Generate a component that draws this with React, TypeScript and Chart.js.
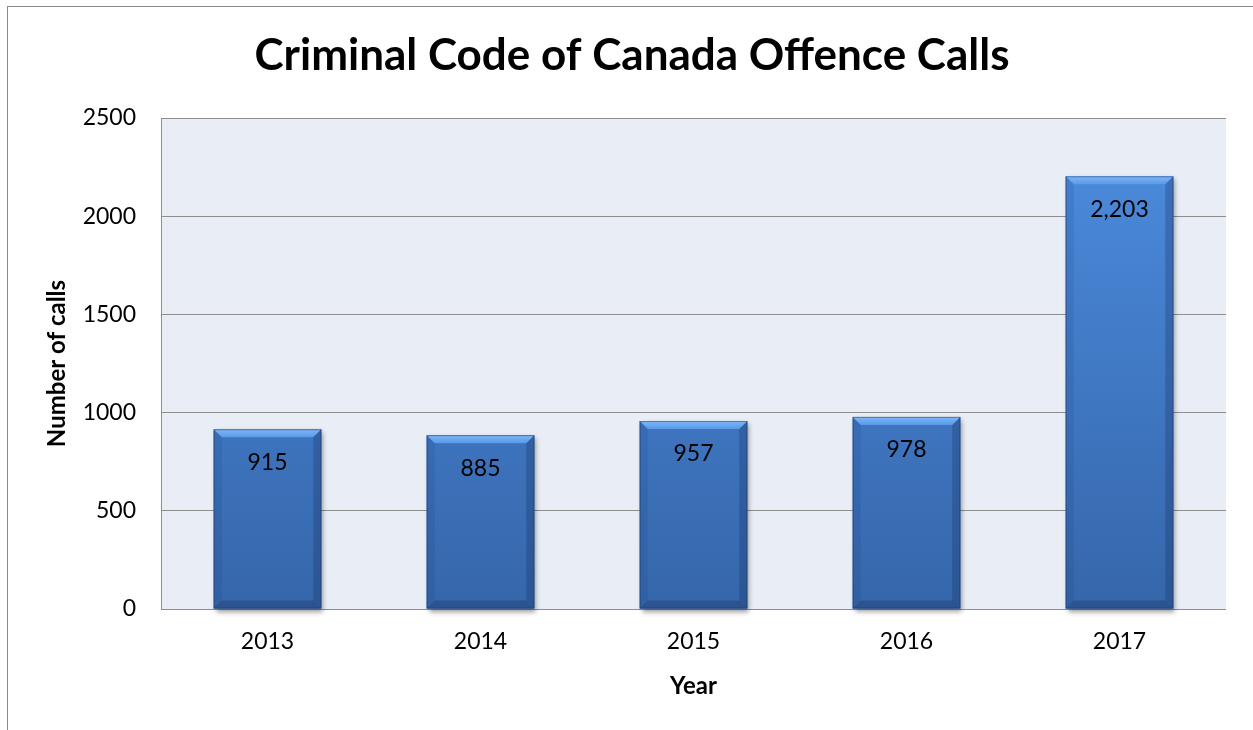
import React, { useEffect, useRef } from "react";
import { Chart, registerables } from "chart.js";

Chart.register(...registerables);

const years = ["2013", "2014", "2015", "2016", "2017"];
const calls = [915, 885, 957, 978, 2203];
const callLabels = ["915", "885", "957", "978", "2,203"];
const yMax = 2500;
const yStep = 500;
const titleText = "Criminal Code of Canada Offence Calls";
const xTitle = "Year";
const yTitle = "Number of calls";

const FONT = "Lato, 'Open Sans', sans-serif";

const plotBg = {
  id: "plotBg",
  beforeDraw(chart: any) {
    const { ctx, chartArea: a } = chart;
    ctx.save();
    ctx.fillStyle = "#E9EDF5";
    ctx.fillRect(a.left, a.top, a.right - a.left, a.bottom - a.top);
    ctx.restore();
  },
};

const titlePlugin = {
  id: "bigTitle",
  afterDraw(chart: any) {
    const { ctx } = chart;
    ctx.save();
    ctx.fillStyle = "#000";
    ctx.font = `bold 44px ${FONT}`;
    ctx.textAlign = "center";
    ctx.textBaseline = "middle";
    ctx.fillText(titleText, 632, 56);
    ctx.restore();
  },
};

const bevelPlugin = {
  id: "bevel",
  beforeDatasetsDraw(chart: any) {
    const { ctx } = chart;
    const meta = chart.getDatasetMeta(0);
    ctx.save();
    meta.data.forEach((bar: any) => {
      const l = bar.x - bar.width / 2;
      const w = bar.width;
      const t = bar.y;
      const h = bar.base - bar.y;
      ctx.shadowColor = "rgba(0,0,0,0.4)";
      ctx.shadowBlur = 5;
      ctx.shadowOffsetX = 2;
      ctx.shadowOffsetY = 3;
      ctx.fillStyle = "#3465A8";
      ctx.fillRect(l, t, w, h);
    });
    ctx.restore();
  },
  afterDatasetsDraw(chart: any) {
    const { ctx } = chart;
    const meta = chart.getDatasetMeta(0);
    const b = 8;
    ctx.save();
    meta.data.forEach((bar: any, i: number) => {
      const l = bar.x - bar.width / 2;
      const r = bar.x + bar.width / 2;
      const t = bar.y;
      const bt = bar.base;
      const g = ctx.createLinearGradient(0, t, 0, t + b);
      g.addColorStop(0, "#80B8F8");
      g.addColorStop(1, "#5899E8");
      ctx.fillStyle = g;
      ctx.beginPath();
      ctx.moveTo(l, t);
      ctx.lineTo(r, t);
      ctx.lineTo(r - b, t + b);
      ctx.lineTo(l + b, t + b);
      ctx.closePath();
      ctx.fill();
      ctx.fillStyle = "rgba(20,50,110,0.12)";
      ctx.beginPath();
      ctx.moveTo(l, t);
      ctx.lineTo(l + b, t + b);
      ctx.lineTo(l + b, bt - b);
      ctx.lineTo(l, bt);
      ctx.closePath();
      ctx.fill();
      ctx.fillStyle = "rgba(15,35,80,0.25)";
      ctx.beginPath();
      ctx.moveTo(r, t);
      ctx.lineTo(r - b, t + b);
      ctx.lineTo(r - b, bt - b);
      ctx.lineTo(r, bt);
      ctx.closePath();
      ctx.fill();
      ctx.fillStyle = "rgba(15,35,80,0.28)";
      ctx.beginPath();
      ctx.moveTo(l, bt);
      ctx.lineTo(l + b, bt - b);
      ctx.lineTo(r - b, bt - b);
      ctx.lineTo(r, bt);
      ctx.closePath();
      ctx.fill();
      ctx.strokeStyle = "rgba(30,60,110,0.5)";
      ctx.lineWidth = 1;
      ctx.strokeRect(l + 0.5, t + 0.5, r - l - 1, bt - t - 1);
      ctx.fillStyle = "#000";
      ctx.font = `23px ${FONT}`;
      ctx.textAlign = "center";
      ctx.textBaseline = "middle";
      ctx.fillText(callLabels[i], bar.x, t + 33);
    });
    ctx.restore();
  },
};

export default function App() {
  const ref = useRef<HTMLCanvasElement | null>(null);

  useEffect(() => {
    if (!ref.current) return;
    const chart = new Chart(ref.current, {
      type: "bar",
      data: {
        labels: years,
        datasets: [
          {
            label: yTitle,
            data: calls,
            backgroundColor: (c: any) => {
              const ch = c.chart;
              const a = ch.chartArea;
              if (!a) return "#3F7BCB";
              const el = c.element;
              const top = el && isFinite(el.y) ? el.y : a.top;
              const bot = el && isFinite(el.base) ? el.base : a.bottom;
              const g = ch.ctx.createLinearGradient(0, top, 0, bot);
              g.addColorStop(0, "#4D8DE0");
              g.addColorStop(1, "#3566AA");
              return g;
            },
            borderWidth: 0,
            categoryPercentage: 1,
            barPercentage: 0.505,
          },
        ],
      },
      options: {
        responsive: false,
        animation: false,
        devicePixelRatio: 1,
        layout: { padding: { top: 118, right: 27, left: 30, bottom: 20 } },
        plugins: {
          legend: { display: false },
          tooltip: { enabled: false },
          title: { display: false },
        },
        scales: {
          x: {
            grid: { display: false, drawTicks: false },
            border: { display: false },
            ticks: { color: "#000", font: { family: FONT, size: 23 }, padding: 19 },
            title: {
              display: true,
              text: xTitle,
              color: "#000",
              font: { family: FONT, size: 24, weight: "bold" },
              padding: { top: 0, bottom: 9 },
            },
            afterFit: (s: any) => {
              s.height = 101;
            },
          },
          y: {
            min: 0,
            max: yMax,
            ticks: {
              stepSize: yStep,
              color: "#000",
              font: { family: FONT, size: 23 },
              padding: 25,
              callback: (v: any) => String(v),
            },
            grid: { color: "#8E8E8E", lineWidth: 1, drawTicks: false },
            border: { display: true, color: "#8E8E8E", width: 1 },
            title: {
              display: true,
              text: yTitle,
              color: "#000",
              font: { family: FONT, size: 24, weight: "bold" },
              padding: { top: 13, bottom: 0 },
            },
            afterFit: (s: any) => {
              s.width = 131;
            },
          },
        },
      },
      plugins: [plotBg, bevelPlugin, titlePlugin],
    });
    return () => chart.destroy();
  }, []);

  return (
    <div style={{ position: "absolute", left: 0, top: 0, width: 1253, height: 730, background: "#fff", overflow: "hidden" }}>
      <div
        style={{
          position: "absolute",
          left: 7,
          top: 6,
          width: 1246,
          height: 724,
          borderLeft: "1px solid #8A8A8A",
          borderTop: "1px solid #8A8A8A",
          boxSizing: "border-box",
        }}
      />
      <canvas ref={ref} width={1253} height={730} style={{ position: "absolute", left: 0, top: 0, width: 1253, height: 730 }} />
    </div>
  );
}
